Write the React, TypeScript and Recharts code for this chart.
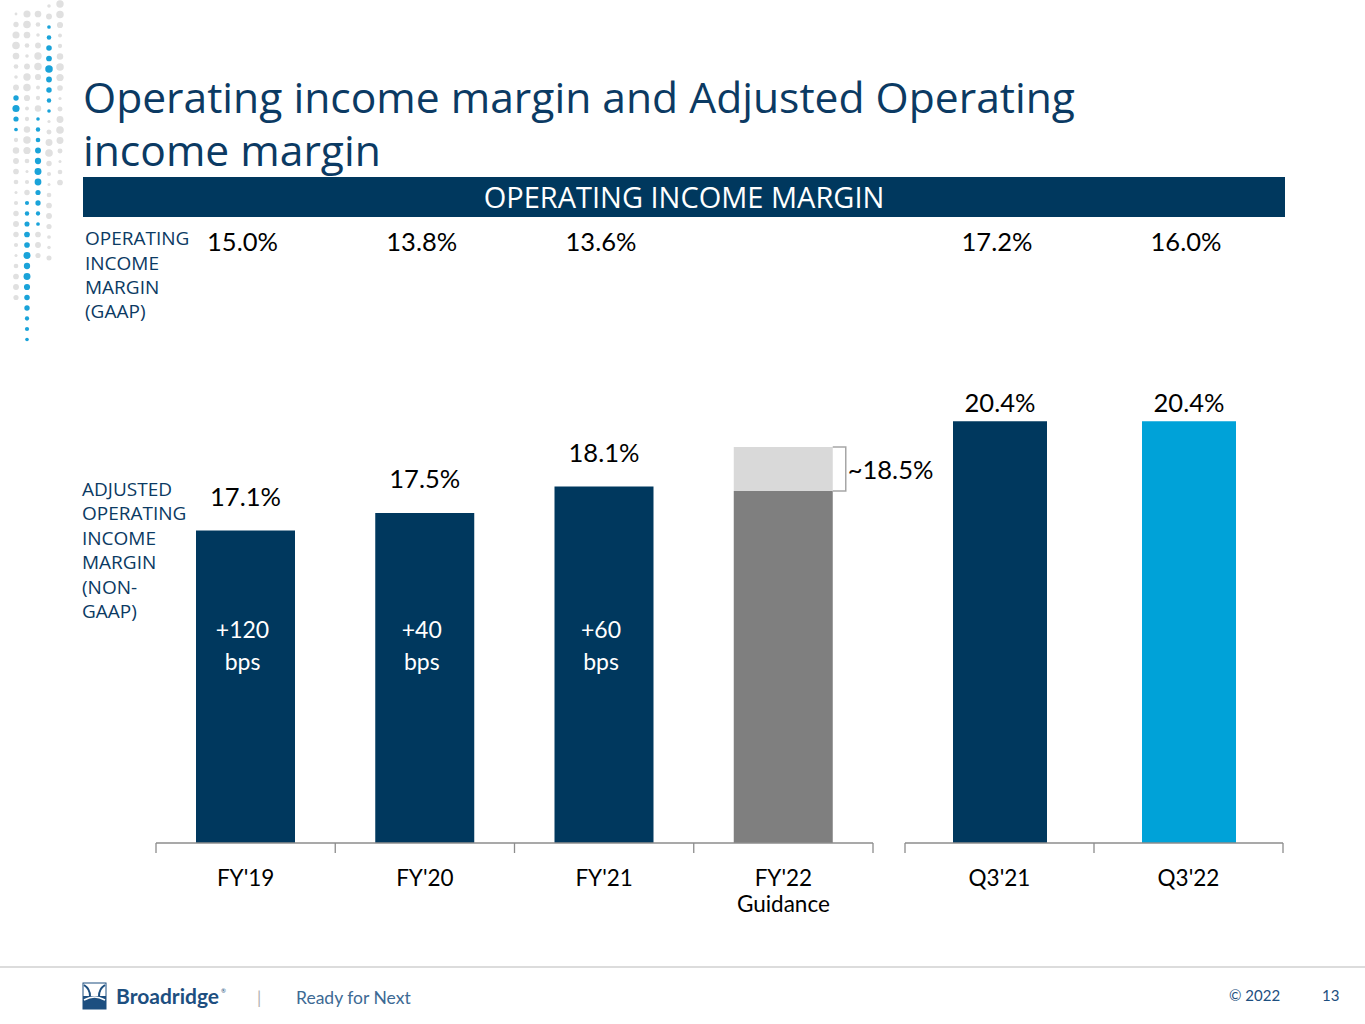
import React from 'react';
import { BarChart, Bar, XAxis, YAxis, Cell, LabelList } from 'recharts';

// ---- data ----
const categoriesLeft = ["FY'19", "FY'20", "FY'21", "FY'22\nGuidance"];
const adjustedLeft = [17.1, 17.5, 18.1, 18.0];
const guidanceRange = [0, 0, 0, 1.0];
const adjustedLabelsLeft = ['17.1%', '17.5%', '18.1%', ''];
const gaapLeft = ['15.0%', '13.8%', '13.6%', ''];
const bpsLeft = ['+120', '+40', '+60', ''];
const guidanceLabel = '~18.5%';

const categoriesRight = ["Q3'21", "Q3'22"];
const adjustedRight = [20.4, 20.4];
const adjustedLabelsRight = ['20.4%', '20.4%'];
const gaapRight = ['17.2%', '16.0%'];

const leftData = categoriesLeft.map((c, i) => ({
  name: c,
  adj: adjustedLeft[i],
  range: guidanceRange[i],
  adjLabel: adjustedLabelsLeft[i],
  gaap: gaapLeft[i],
  bps: bpsLeft[i],
}));
const rightData = categoriesRight.map((c, i) => ({
  name: c,
  adj: adjustedRight[i],
  adjLabel: adjustedLabelsRight[i],
  gaap: gaapRight[i],
}));

// ---- styles ----
const FONT = 'Lato, "Open Sans", sans-serif';
const FONT2 = '"Open Sans", Lato, sans-serif';
const NAVY = '#00385E';
const TEXT_NAVY = '#0B3A63';
const LEFT_COLORS = [NAVY, NAVY, NAVY, '#7F7F7F'];
const RIGHT_COLORS = [NAVY, '#00A2D8'];
const CHART_TOP = 220; // page y of chart containers

const AxisTick = (props: any) => {
  const { x, y, payload, index, visibleTicksCount } = props;
  const half = payload && payload.offset ? payload.offset : 0;
  const lines = String(payload.value).split('\n');
  return (
    <g>
      <line x1={x - half} x2={x - half} y1={y} y2={y + 10} stroke="#8C8C8C" strokeWidth={1.3} />
      {index === visibleTicksCount - 1 && (
        <line x1={x + half} x2={x + half} y1={y} y2={y + 10} stroke="#8C8C8C" strokeWidth={1.3} />
      )}
      <text x={x} y={y + 44} textAnchor="middle" fontFamily={FONT} fontSize={22.5} fill="#000">
        {lines.map((l, i) => (
          <tspan key={i} x={x} y={y + 43 + i * 26}>
            {l}
          </tspan>
        ))}
      </text>
    </g>
  );
};

const makeTopLabel = (labels: string[], gap: number) => (p: any) => {
  const { x, y, width, index } = p;
  const t = labels[index];
  if (!t) return null;
  return (
    <text x={x + width / 2} y={y - gap} textAnchor="middle" fontFamily={FONT} fontSize={25.5} fill="#000">
      {t}
    </text>
  );
};

const makeGaapLabel = (labels: string[]) => (p: any) => {
  const { x, width, index } = p;
  const t = labels[index];
  if (!t) return null;
  return (
    <text x={x + width / 2 - 3} y={251 - CHART_TOP} textAnchor="middle" fontFamily={FONT} fontSize={25.5} fill="#000">
      {t}
    </text>
  );
};

const BpsLabel = (p: any) => {
  const { x, y, width, height, index } = p;
  const t = bpsLeft[index];
  if (!t) return null;
  const base = y + height;
  return (
    <text textAnchor="middle" fontFamily={FONT} fontSize={23} fill="#fff">
      <tspan x={x + width / 2 - 3} y={base - 205}>{t}</tspan>
      <tspan x={x + width / 2 - 3} y={base - 173}>bps</tspan>
    </text>
  );
};

const RangeLabel = (p: any) => {
  const { x, y, width, height, value } = p;
  if (!value) return null;
  const r = x + width;
  return (
    <g>
      <path
        d={`M${r},${y} H${r + 13} V${y + height} H${r}`}
        fill="none"
        stroke="#A6A6A6"
        strokeWidth={1.5}
      />
      <text x={r + 15} y={y + height / 2 + 10} fontFamily={FONT} fontSize={25.5} fill="#000">
        {guidanceLabel}
      </text>
    </g>
  );
};

// decorative dots (top-left)
const dotColumns = [
  { x: 16, from: 14, to: 300, blue: [88, 130] },
  { x: 27, from: 14, to: 340, blue: [193, 341] },
  { x: 38, from: 14, to: 260, blue: [118, 226] },
  { x: 49, from: 6, to: 265, blue: [26, 111] },
  { x: 60, from: 4, to: 184, blue: [-1, -1] },
];
const Dots = () => {
  const out: any[] = [];
  dotColumns.forEach((c, ci) => {
    for (let y = c.from, k = 0; y <= c.to; y += 10.5, k++) {
      const isBlue = y >= c.blue[0] && y <= c.blue[1];
      const mid = (c.blue[0] + c.blue[1]) / 2;
      const span = (c.blue[1] - c.blue[0]) / 2 || 1;
      let r: number;
      if (isBlue) {
        r = 1.8 + 2.0 * (1 - Math.abs(y - mid) / span) * (0.6 + 0.4 * Math.abs(Math.sin(k * 1.3)));
      } else {
        r = 1.4 + 2.4 * Math.abs(Math.sin((k + ci * 2) * 0.55)) * (y < 160 ? 1 : 0.65);
      }
      out.push(
        <circle key={`${ci}-${k}`} cx={c.x} cy={y} r={r} fill={isBlue ? '#1AA3D9' : '#E0E0E0'} />
      );
    }
  });
  return <>{out}</>;
};

export default function App() {
  return (
    <div
      style={{
        position: 'absolute',
        left: 0,
        top: 0,
        width: 1365,
        height: 1024,
        background: '#fff',
        overflow: 'hidden',
        fontFamily: FONT,
      }}
    >
      {/* background svg: decoration, titles, labels, footer */}
      <svg width={1365} height={1024} style={{ position: 'absolute', left: 0, top: 0 }}>
        <Dots />
        <text x={83} y={113} fontFamily={FONT2} fontSize={42.6} fill={TEXT_NAVY}>
          Operating income margin and Adjusted Operating
        </text>
        <text x={83} y={166} fontFamily={FONT2} fontSize={42.6} fill={TEXT_NAVY}>
          income margin
        </text>
        <rect x={83} y={177} width={1202} height={40} fill={NAVY} />
        <text x={684} y={208} textAnchor="middle" fontFamily={FONT2} fontSize={29} fill="#fff">
          OPERATING INCOME MARGIN
        </text>
        <text fontFamily={FONT2} fontSize={19} fill={TEXT_NAVY}>
          <tspan x={85} y={245}>OPERATING</tspan>
          <tspan x={85} y={270}>INCOME</tspan>
          <tspan x={85} y={294}>MARGIN</tspan>
          <tspan x={85} y={318}>(GAAP)</tspan>
        </text>
        <text fontFamily={FONT2} fontSize={19} fill={TEXT_NAVY}>
          <tspan x={82} y={496}>ADJUSTED</tspan>
          <tspan x={82} y={520}>OPERATING</tspan>
          <tspan x={82} y={545}>INCOME</tspan>
          <tspan x={82} y={569}>MARGIN</tspan>
          <tspan x={82} y={594}>(NON-</tspan>
          <tspan x={82} y={618}>GAAP)</tspan>
        </text>
        {/* footer */}
        <line x1={0} x2={1365} y1={967} y2={967} stroke="#D0D0D0" strokeWidth={1.5} />
        <g>
          <rect x={83} y={983} width={23} height={26} fill="#fff" stroke="#1D4F80" strokeWidth={1} />
          <rect x={83} y={996} width={23} height={13} fill="#1D4F80" />
          <path d="M84,985 C92,990 92,1002 84,1008" stroke="#1D4F80" strokeWidth={2} fill="none" />
          <path d="M105,985 C97,990 97,1002 105,1008" stroke="#1D4F80" strokeWidth={2} fill="none" />
          <path d="M84,1000 C92,996 97,996 105,1000" stroke="#fff" strokeWidth={1.6} fill="none" />
        </g>
        <text x={116} y={1004} fontFamily={FONT} fontSize={21} fontWeight={700} fill="#1D4F80">
          Broadridge
        </text>
        <text x={221} y={993} fontFamily={FONT} fontSize={6} fill="#1D4F80">®</text>
        <text x={257} y={1004} fontFamily={FONT} fontSize={17} fill="#B0B0B0">|</text>
        <text x={296} y={1004} fontFamily={FONT} fontSize={17.5} fill="#3D6A94">
          Ready for Next
        </text>
        <text x={1229} y={1001} fontFamily={FONT} fontSize={15} fill="#1D4F80">© 2022</text>
        <text x={1322} y={1001} fontFamily={FONT} fontSize={15} fill="#1D4F80">13</text>
      </svg>

      {/* left chart */}
      <div style={{ position: 'absolute', left: 140, top: CHART_TOP }}>
        <BarChart
          width={840}
          height={720}
          data={leftData}
          margin={{ top: 183, right: 107, bottom: 37, left: 16 }}
          barCategoryGap={0}
        >
          <XAxis
            dataKey="name"
            interval={0}
            tickLine={false}
            tickSize={0}
            tickMargin={0}
            axisLine={{ stroke: '#8C8C8C', strokeWidth: 1.3 }}
            tick={<AxisTick />}
            height={60}
          />
          <YAxis hide type="number" domain={[10, 20]} allowDataOverflow />
          <Bar dataKey="adj" stackId="a" barSize={99} isAnimationActive={false}>
            {leftData.map((d, i) => (
              <Cell key={i} fill={LEFT_COLORS[i]} />
            ))}
            <LabelList dataKey="adjLabel" content={makeTopLabel(adjustedLabelsLeft, 25)} />
            <LabelList dataKey="gaap" content={makeGaapLabel(gaapLeft)} />
            <LabelList dataKey="bps" content={<BpsLabel />} />
          </Bar>
          <Bar dataKey="range" stackId="a" barSize={99} fill="#D9D9D9" isAnimationActive={false}>
            <LabelList dataKey="range" content={<RangeLabel />} />
          </Bar>
        </BarChart>
      </div>

      {/* right chart */}
      <div style={{ position: 'absolute', left: 890, top: CHART_TOP }}>
        <BarChart
          width={410}
          height={720}
          data={rightData}
          margin={{ top: 177, right: 17, bottom: 37, left: 15 }}
          barCategoryGap={0}
        >
          <XAxis
            dataKey="name"
            interval={0}
            tickLine={false}
            tickSize={0}
            tickMargin={0}
            axisLine={{ stroke: '#8C8C8C', strokeWidth: 1.3 }}
            tick={<AxisTick />}
            height={60}
          />
          <YAxis hide type="number" domain={[10, 21]} allowDataOverflow />
          <Bar dataKey="adj" barSize={94} isAnimationActive={false}>
            {rightData.map((d, i) => (
              <Cell key={i} fill={RIGHT_COLORS[i]} />
            ))}
            <LabelList dataKey="adjLabel" content={makeTopLabel(adjustedLabelsRight, 9)} />
            <LabelList dataKey="gaap" content={makeGaapLabel(gaapRight)} />
          </Bar>
        </BarChart>
      </div>
    </div>
  );
}
